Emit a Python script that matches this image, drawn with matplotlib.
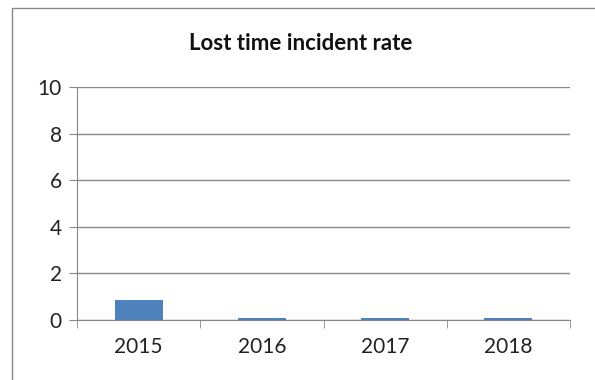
import matplotlib.pyplot as plt
from matplotlib.patches import Rectangle
import numpy as np

plt.rcParams['font.family'] = ['Lato', 'DejaVu Sans']

# data
years = ['2015', '2016', '2017', '2018']
rate = [0.86, 0.07, 0.07, 0.07]
yticks = [0, 2, 4, 6, 8, 10]

fig = plt.figure(figsize=(5.95, 3.8), dpi=100)
ax = fig.add_axes([77/595, 1 - 320/380, (570 - 77)/595, (320 - 87)/380])

x = np.arange(len(years))
ax.bar(x, rate, width=0.39, color='#4f81bd', zorder=3)

ax.set_xlim(-0.5, len(years) - 0.5)
ax.set_ylim(0, 10)
ax.set_yticks(yticks)
ax.set_xticks(x)
ax.set_xticklabels(years)
ax.set_xticks(np.arange(-0.5, len(years), 1), minor=True)
ax.tick_params(axis='x', which='major', length=0, labelsize=15, pad=12, colors='#222222')
ax.tick_params(axis='x', which='minor', length=6, color='#888888')
ax.tick_params(axis='y', length=6, color='#888888', labelsize=15, pad=5, labelcolor='#222222')
ax.grid(axis='y', color='#888888', linewidth=1, zorder=0)

for s in ['top', 'right']:
    ax.spines[s].set_visible(False)
for s in ['left', 'bottom']:
    ax.spines[s].set_color('#888888')

fig.text(0.505, 1 - 43/380, 'Lost time incident rate', ha='center', va='center',
         fontsize=16, fontweight='bold', color='#111111')

fig.patches.append(Rectangle((12/595, -0.05), 1.0, 1 - 8/380 + 0.05,
                             transform=fig.transFigure, fill=False,
                             edgecolor='#888888', linewidth=1))

fig.savefig('out.png', dpi=100)
